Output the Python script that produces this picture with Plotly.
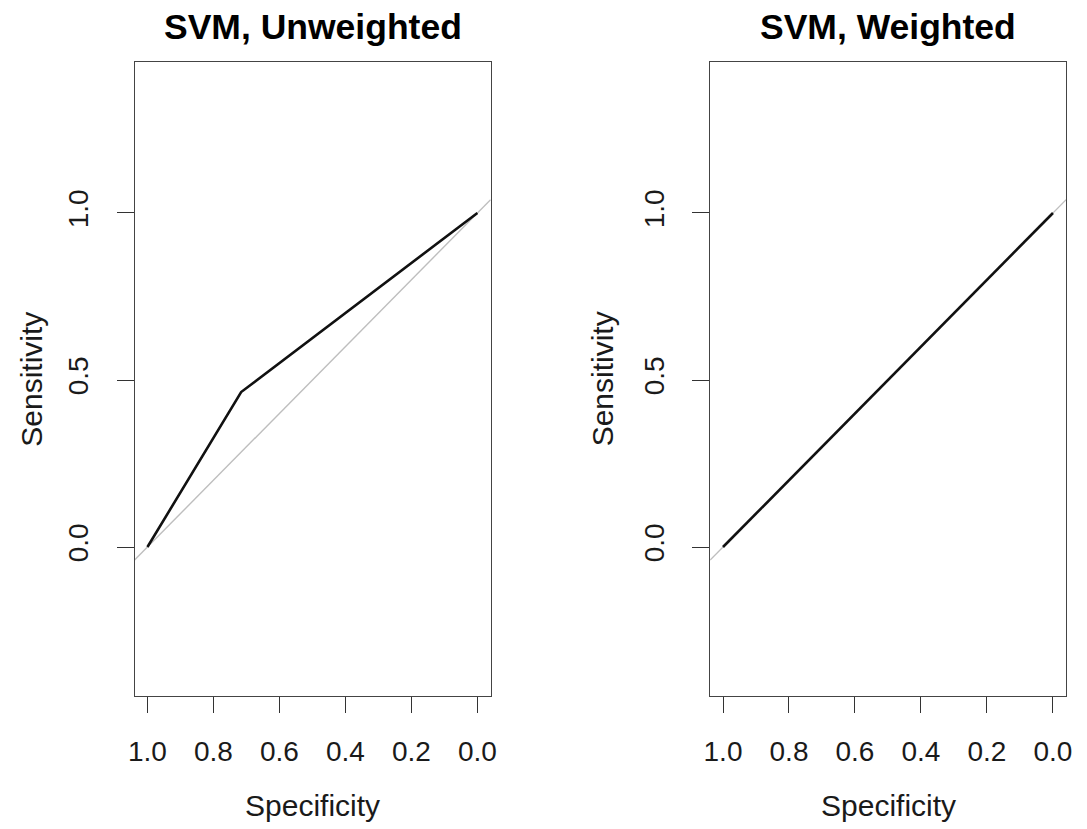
import plotly.graph_objects as go

# ---- data ----
titles = ["SVM, Unweighted", "SVM, Weighted"]
spec_unw = [1.0, 0.716, 0.0]
sens_unw = [0.0, 0.464, 1.0]
spec_w = [1.0, 0.0]
sens_w = [0.0, 1.0]
x_ticks = [1.0, 0.8, 0.6, 0.4, 0.2, 0.0]
x_tick_labels = ["1.0", "0.8", "0.6", "0.4", "0.2", "0.0"]
y_ticks = [0.0, 0.5, 1.0]
y_tick_labels = ["0.0", "0.5", "1.0"]

W, H = 1087, 829
xr = [1.039, -0.04]
yr = [-0.446, 1.452]

FONT = "Liberation Sans, Arial, Helvetica, sans-serif"
TXT = "#1a1a1a"
GREY = "#bebebe"

fig = go.Figure()

panels = [
    (spec_unw, sens_unw, "x", "y"),
    (spec_w, sens_w, "x2", "y2"),
]
for spec, sens, xa, ya in panels:
    # identity line across the plot region
    fig.add_trace(go.Scatter(x=xr, y=[1 - v for v in xr], mode="lines",
                             line=dict(color=GREY, width=1.4),
                             xaxis=xa, yaxis=ya, showlegend=False, hoverinfo="skip"))
    fig.add_trace(go.Scatter(x=spec, y=sens, mode="lines",
                             line=dict(color="#111111", width=2.6),
                             xaxis=xa, yaxis=ya, showlegend=False))

x_domains = [[130 / W, 490 / W], [712 / W, 1072 / W]]
y_domain = [1 - 696 / H, 1 - 62 / H]

common_x = dict(range=xr, tickmode="array", tickvals=x_ticks, ticktext=x_tick_labels,
                ticks="outside", ticklen=16, tickwidth=1, tickcolor="#333",
                showline=True, linecolor="#444", linewidth=1, mirror=True,
                showgrid=False, zeroline=False,
                tickfont=dict(family=FONT, size=28, color=TXT), ticklabelstandoff=14)
common_y = dict(range=yr, domain=y_domain, tickmode="array", tickvals=y_ticks,
                ticktext=y_tick_labels, tickangle=-90,
                ticks="outside", ticklen=17, tickwidth=1, tickcolor="#333",
                showline=True, linecolor="#444", linewidth=1, mirror=True,
                showgrid=False, zeroline=False,
                tickfont=dict(family=FONT, size=28, color=TXT), ticklabelstandoff=17)

fig.update_layout(
    width=W, height=H, margin=dict(l=0, r=0, t=0, b=0),
    paper_bgcolor="white", plot_bgcolor="white",
    xaxis=dict(domain=x_domains[0], anchor="y", **common_x),
    yaxis=dict(anchor="x", **common_y),
    xaxis2=dict(domain=x_domains[1], anchor="y2", **common_x),
    yaxis2=dict(anchor="x2", **common_y),
)

annotations = []
for i, dom in enumerate(x_domains):
    cx = (dom[0] + dom[1]) / 2
    annotations.append(dict(text="<b>" + titles[i] + "</b>", x=cx, y=1 - 27 / H,
                            xref="paper", yref="paper", xanchor="center", yanchor="middle",
                            showarrow=False, font=dict(family=FONT, size=35.5, color="#000")))
    annotations.append(dict(text="Specificity", x=cx, y=1 - 805 / H,
                            xref="paper", yref="paper", xanchor="center", yanchor="middle",
                            showarrow=False, font=dict(family=FONT, size=30, color=TXT)))
ylab_x = [25, 603]
for i in range(2):
    annotations.append(dict(text="Sensitivity", x=ylab_x[i] / W, y=(y_domain[0] + y_domain[1]) / 2,
                            xref="paper", yref="paper", xanchor="center", yanchor="middle",
                            textangle=-90, showarrow=False,
                            font=dict(family=FONT, size=30, color=TXT)))
fig.update_layout(annotations=annotations)

fig.write_html("out.html")
